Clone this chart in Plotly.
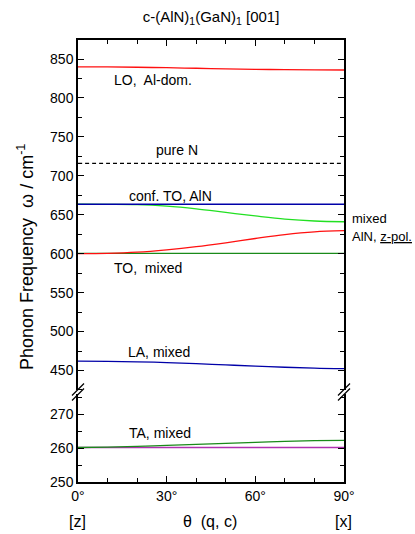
import plotly.graph_objects as go

# ---- data ----
theta = [0, 10, 20, 30, 40, 50, 60, 70, 80, 90]
lo_al = [840, 839.8, 839.4, 838.8, 838.1, 837.4, 836.8, 836.3, 836.0, 835.9]
pure_n = [716] * 10
conf_to_aln = [663.5] * 10
mixed_upper = [663.5, 663.4, 663.0, 661.0, 657.5, 653.0, 648.5, 644.5, 642.0, 641.0]
mixed_lower = [600.0, 600.5, 602.0, 605.0, 609.0, 614.0, 619.5, 624.5, 628.0, 629.5]
to_mixed = [600.5] * 10
la_mixed = [462.0, 461.8, 461.2, 460.2, 458.8, 457.2, 455.6, 454.2, 453.0, 452.3]
ta_green = [260.2, 260.3, 260.5, 260.8, 261.1, 261.4, 261.7, 262.0, 262.2, 262.3]
ta_purple = [260.2] * 10

x_ticks = [0, 30, 60, 90]
x_ticktext = ["0°", "30°", "60°", "90°"]

W, H = 415, 534
L, R, T, B = 78, 71, 40, 52
PW, PH = W - L - R, H - T - B
BREAK_PX = 392  # pixel y of the axis break
split = (H - B - BREAK_PX) / PH

RED = "#ff1010"
BLUE = "#0000a8"
LGREEN = "#22e022"
DGREEN = "#1a8a1a"
PURPLE = "#b030b0"

fig = go.Figure()

def add(y, color, axis="upper", dash="solid", width=1.3):
    xa, ya = ("x2", "y") if axis == "upper" else ("x", "y2")
    fig.add_trace(go.Scatter(x=theta, y=y, mode="lines", xaxis=xa, yaxis=ya,
                             line=dict(color=color, width=width, dash=dash, shape="spline"),
                             showlegend=False, hoverinfo="skip"))

add(lo_al, RED)
add(pure_n, "black", dash="4px,3px", width=1.2)
add(to_mixed, DGREEN)
add(mixed_lower, RED)
add(mixed_upper, LGREEN)
add(conf_to_aln, BLUE)
add(la_mixed, BLUE)
add(ta_purple, PURPLE, axis="lower")
add(ta_green, DGREEN, axis="lower")

font = dict(family="Liberation Sans, Arial, sans-serif", size=14, color="black")

common_x = dict(range=[0, 90], showline=True, linecolor="black", linewidth=1.5,
                ticks="inside", ticklen=6, tickwidth=1.2, tickcolor="black",
                tickvals=x_ticks, ticktext=x_ticktext, showgrid=False, zeroline=False,
                minor=dict(dtick=10, tick0=0, ticks="inside", ticklen=4, tickwidth=1, tickcolor="black"))
common_y = dict(showline=True, linecolor="black", linewidth=1.5, mirror="ticks",
                ticks="inside", ticklen=6, tickwidth=1.2, tickcolor="black",
                showgrid=False, zeroline=False, tickfont=dict(size=14))

fig.update_layout(
    width=W, height=H,
    margin=dict(l=L, r=R, t=T, b=B),
    paper_bgcolor="white", plot_bgcolor="white",
    font=font,
    title=dict(text="c-(AlN)<sub>1</sub>(GaN)<sub>1</sub> [001]", x=0.5, xref="paper",
               y=1 - 17 / H, yref="container", yanchor="middle", xanchor="center",
               font=dict(size=15)),
    xaxis=dict(anchor="y2", tickfont=dict(size=14), **common_x),
    xaxis2=dict(anchor="y", side="top", showticklabels=False, matches="x", **common_x),
    yaxis=dict(domain=[split, 1], anchor="x2", range=[422.4, 874.4],
               tickvals=[450, 500, 550, 600, 650, 700, 750, 800, 850],
               minor=dict(dtick=25, tick0=0, ticks="inside", ticklen=4, tickwidth=1, tickcolor="black"),
               **common_y),
    yaxis2=dict(domain=[0, split], anchor="x", range=[250, 276.6],
                tickvals=[250, 260, 270],
                minor=dict(dtick=5, tick0=0, ticks="inside", ticklen=4, tickwidth=1, tickcolor="black"),
                **common_y),
)

def px2paper(px, py):
    return (px - L) / PW, (H - B - py) / PH

# axis break marks on both vertical axes
for ax_px in (L, L + PW):
    x0, y0 = px2paper(ax_px, BREAK_PX + 2)
    x1, y1 = px2paper(ax_px, BREAK_PX - 2)
    fig.add_shape(type="line", xref="paper", yref="paper", x0=x0, y0=y0, x1=x1, y1=y1,
                  line=dict(color="white", width=4))
    for off in (-2.5, 2.5):
        a = px2paper(ax_px - 6, BREAK_PX + off + 6)
        b = px2paper(ax_px + 6, BREAK_PX + off - 6)
        fig.add_shape(type="line", xref="paper", yref="paper", x0=a[0], y0=a[1], x1=b[0], y1=b[1],
                      line=dict(color="black", width=1.3))

def note(text, x, y, xref="x2", yref="y", xanchor="center", size=14):
    fig.add_annotation(text=text, x=x, y=y, xref=xref, yref=yref, showarrow=False,
                       xanchor=xanchor, yanchor="middle", font=dict(size=size))

note("LO,  Al-dom.", 25.4, 823)
note("pure N", 33.4, 733)
note("conf. TO, AlN", 31.2, 674.4)
note("TO,  mixed", 23.8, 581.6)
note("LA, mixed", 27.5, 474.4)
note("TA, mixed", 27.8, 264.4, xref="x", yref="y2")

mx, my = px2paper(350, 218.3)
note("mixed", mx, my, xref="paper", yref="paper", xanchor="left", size=13)
mx, my = px2paper(350, 236.7)
note("AlN, <u>z-pol.</u>", mx, my, xref="paper", yref="paper", xanchor="left", size=13)

# bottom labels
for px, txt in ((77, "[z]"), (210, "θ  (q, c)"), (343, "[x]")):
    ax, ay = px2paper(px, 521)
    note(txt, ax, ay, xref="paper", yref="paper", size=16)

# y title
ax, ay = px2paper(25, 257)
fig.add_annotation(text="Phonon Frequency  ω / cm<sup>-1</sup>", x=ax, y=ay, xref="paper", yref="paper",
                   showarrow=False, textangle=-90, xanchor="center", yanchor="middle",
                   font=dict(size=18))

fig.write_html("out.html")
